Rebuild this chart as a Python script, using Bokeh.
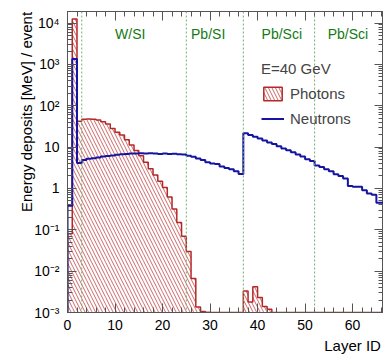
import numpy as np
from bokeh.plotting import figure
from bokeh.models import (Range1d, FixedTicker, CustomJSTickFormatter, LinearAxis, LogAxis,
                          Span, Label, Legend, LegendItem)
from bokeh.embed import file_html
from bokeh.resources import INLINE

# ---- data (per layer, bins 0..66) ----
photons = [0.08, 12500, 42, 47, 48, 47, 45, 41, 36, 28, 23, 19.5, 15, 11.3, 8.3, 6.2, 4.3, 3.0, 2.1, 1.5,
           1.05, 0.62, 0.32, 0.15, 0.07, 0.03, 0.0066, 0.00135, 0.00105,
           0, 0, 0, 0, 0, 0, 0, 0,
           0.0033, 0.0018, 0.0042, 0.0023, 0.0014, 0.0012,
           0, 0, 0, 0, 0, 0, 0, 0, 0, 0, 0, 0, 0, 0, 0, 0, 0, 0, 0, 0, 0, 0, 0, 0]
neutrons = [0.38, 1350, 4.1, 4.9, 5.2, 5.4, 5.6, 5.9, 6.1, 6.3, 6.5, 6.7, 6.8, 7.0, 7.0, 7.1, 7.0, 7.1, 7.0, 6.8,
            7.0, 6.8, 6.9, 6.7, 6.6, 6.2, 5.8, 5.3, 4.9, 4.3, 4.0, 3.9, 3.4, 3.1, 2.9, 2.6, 2.25,
            21.5, 19.5, 17.8, 16.2, 14.5, 13.0, 11.8, 10.5, 9.3, 8.4, 7.5, 6.6, 5.9, 5.1, 4.6,
            3.6, 3.3, 2.9, 2.6, 2.2, 2.0, 1.75, 1.15, 1.1, 1.1, 0.9, 0.75, 0.7, 0.45, 0.45]
boundaries = [3, 25, 37, 52]
section_names = ["W/SI", "Pb/SI", "Pb/Sci", "Pb/Sci"]
section_x = [13.2, 29.6, 45.1, 59.0]
x_ticks = [0, 10, 20, 30, 40, 50, 60]
y_ticks = [1e-3, 1e-2, 1e-1, 1, 10, 1e2, 1e3, 1e4]

Y_MIN, Y_MAX = 1e-3, 1.9e4
X_MIN, X_MAX = 0, 66.5
FONT = "Liberation Sans"
RED = "#b52828"
BLUE = "#1414a0"
GREEN = "#137a13"
AXIS = "#555555"

p = figure(width=383, height=363, output_backend="svg", toolbar_location=None,
           y_axis_type="log", x_range=Range1d(X_MIN, X_MAX), y_range=Range1d(Y_MIN, Y_MAX),
           min_border_left=67, min_border_right=0, min_border_top=11, min_border_bottom=51)
p.background_fill_color = "white"
p.border_fill_color = "white"
p.outline_line_color = AXIS
p.xgrid.visible = False
p.ygrid.visible = False

# histogram geometry derived from data
n = len(photons)
edges = np.arange(n + 1)
ph = np.maximum(np.array(photons, dtype=float), Y_MIN)
ne = np.maximum(np.array(neutrons, dtype=float), Y_MIN)

def step_xy(vals):
    xs = [edges[0]]
    ys = [Y_MIN]
    for i, v in enumerate(vals):
        xs += [edges[i], edges[i + 1]]
        ys += [v, v]
    xs.append(edges[-1])
    ys.append(Y_MIN)
    return xs, ys

hatch = dict(hatch_pattern="\\", hatch_color=RED, hatch_scale=7, hatch_weight=1, hatch_alpha=0.7)

# hatched photon area
p.quad(left=edges[:-1], right=edges[1:], bottom=[Y_MIN] * n, top=ph,
       fill_alpha=0, line_alpha=0, **hatch)
phx, phy = step_xy(ph)
p.line(phx, phy, line_color=RED, line_width=1.5)

# legend swatch renderer: one empty (zero-valued) photon bin, drawn flat on the floor
k = int(np.argmax(np.array(photons) == 0))
ph_leg = p.quad(left=[edges[k]], right=[edges[k + 1]], bottom=[Y_MIN], top=[ph[k]],
                fill_alpha=0, line_color=RED, line_width=1.5, **hatch)

nex, ney = step_xy(ne)
ne_line = p.line(nex, ney, line_color=BLUE, line_width=2)

for b in boundaries:
    p.add_layout(Span(location=b, dimension="height", line_color="#6fae6f",
                      line_dash="2 2", line_width=1))

for name, xc in zip(section_names, section_x):
    p.add_layout(Label(x=xc, y=5400, text=name, text_align="center", text_baseline="middle",
                       text_font=FONT, text_font_size="14px", text_color=GREEN))

# axes
x_minor = list(range(0, 68, 2))
y_minor = [m * 10.0 ** e for e in range(-3, 5) for m in range(2, 10)]
fmt = CustomJSTickFormatter(code="""
const e = Math.round(Math.log10(tick));
const sup = {'-':'\u207b','0':'\u2070','1':'\u00b9','2':'\u00b2','3':'\u00b3','4':'\u2074','5':'\u2075','6':'\u2076','7':'\u2077','8':'\u2078','9':'\u2079'};
if (e == 0) return '1';
if (e == 1) return '10';
return '10' + String(e).split('').map(c => sup[c]).join('');
""")
blank = CustomJSTickFormatter(code="return '';")

def style(ax, labels=True):
    ax.axis_line_color = AXIS
    ax.major_tick_line_color = AXIS
    ax.minor_tick_line_color = AXIS
    ax.major_tick_in = 9
    ax.major_tick_out = 0
    ax.minor_tick_in = 5
    ax.minor_tick_out = 0
    if labels:
        ax.major_label_text_font = FONT
        ax.major_label_text_font_size = "14px"
        ax.major_label_text_color = "black"
        ax.axis_label_text_font = FONT
        ax.axis_label_text_font_size = "15px"
        ax.axis_label_text_font_style = "normal"
        ax.axis_label_text_color = "black"
    else:
        ax.formatter = blank
        ax.major_label_text_font_size = "1px"
        ax.major_label_standoff = 0

xt = FixedTicker(ticks=x_ticks, minor_ticks=x_minor)
yt = FixedTicker(ticks=y_ticks, minor_ticks=y_minor)
xax = p.xaxis[0]
yax = p.yaxis[0]
xax.ticker = xt
yax.ticker = yt
yax.formatter = fmt
style(xax)
style(yax)
xax.major_label_standoff = 7
yax.major_label_standoff = 8

# ROOT-style titles sit at the axis end: pad with no-break spaces before the text
yax.axis_label = "\u00a0" * 24 + "Energy deposits [MeV] / event"
xax.axis_label = "\u00a0" * 61 + "Layer ID"
yax.axis_label_standoff = -4
xax.axis_label_standoff = 4

top_ax = LinearAxis(ticker=FixedTicker(ticks=x_ticks, minor_ticks=x_minor))
style(top_ax, labels=False)
p.add_layout(top_ax, "above")
right_ax = LogAxis(ticker=FixedTicker(ticks=y_ticks, minor_ticks=y_minor))
style(right_ax, labels=False)
p.add_layout(right_ax, "right")

legend = Legend(items=[LegendItem(label="Photons", renderers=[ph_leg]),
                       LegendItem(label="Neutrons", renderers=[ne_line])],
                title="E=40 GeV", location=(194, 185))
legend.title_text_font = FONT
legend.title_text_font_size = "15px"
legend.title_text_font_style = "normal"
legend.title_standoff = 8
legend.label_text_font = FONT
legend.label_text_font_size = "15px"
legend.glyph_width = 23
legend.glyph_height = 17
legend.label_height = 17
legend.label_standoff = 6
legend.spacing = 8
legend.padding = 0
legend.margin = 0
legend.border_line_alpha = 0
legend.background_fill_alpha = 0
p.add_layout(legend)

open("out.html", "w").write(file_html(p, INLINE))
